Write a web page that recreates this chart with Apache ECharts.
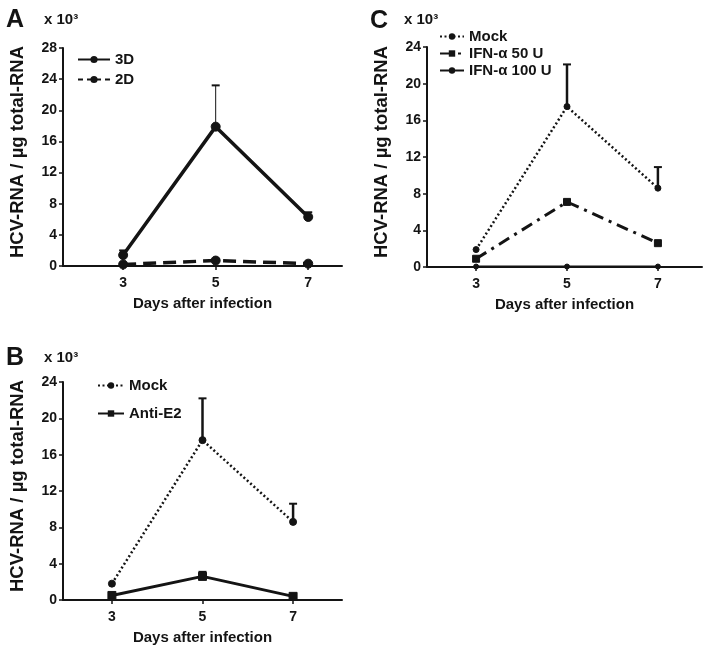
<!DOCTYPE html>
<html>
<head>
<meta charset="utf-8">
<script src="https://cdn.jsdelivr.net/npm/echarts@6/dist/echarts.min.js"></script>
<style>html,body{margin:0;padding:0;background:#fff;}#c{width:703px;height:646px;}</style>
</head>
<body>
<div id="c"></div>
<script>
// ---- data ----
const days = [3, 5, 7];
const dayTicks = [3, 5, 7];
// Panel A
const a3D = [1.4, 17.9, 6.3];
const a3DErr = [0.6, 5.3, 0.6];
const a2D = [0.2, 0.7, 0.3];
const a2DErr = [0.1, 0.2, 0.1];
// Panel B
const bMock = [1.8, 17.6, 8.6];
const bMockErr = [0, 4.6, 2.0];
const bAntiE2 = [0.5, 2.6, 0.4];
const bAntiE2Err = [0, 0.5, 0];
// Panel C
const cMock = [1.9, 17.5, 8.6];
const cMockErr = [0, 4.6, 2.3];
const cIFN50 = [0.9, 7.1, 2.6];
const cIFN50Err = [0, 0, 0];
const cIFN100 = [0.05, 0.05, 0.05];
const yTicksA = [0, 4, 8, 12, 16, 20, 24, 28];
const yTicksBC = [0, 4, 8, 12, 16, 20, 24];

const FONT = '"Liberation Sans", Arial, sans-serif';
const INK = '#141414';

function pts(vals) { return days.map((d, i) => [d, vals[i]]); }
function errPts(vals, errs) { return days.map((d, i) => [d, vals[i], vals[i] + errs[i]]).filter(p => p[2] > p[1]); }

function errSeries(idx, vals, errs, width) {
  return {
    type: 'custom', xAxisIndex: idx, yAxisIndex: idx, silent: true, z: 1,
    data: errPts(vals, errs),
    renderItem: function (params, api) {
      const p0 = api.coord([api.value(0), api.value(1)]);
      const p1 = api.coord([api.value(0), api.value(2)]);
      const cap = 4;
      return { type: 'group', children: [
        { type: 'line', shape: { x1: p0[0], y1: p0[1], x2: p1[0], y2: p1[1] }, style: { stroke: INK, lineWidth: width } },
        { type: 'line', shape: { x1: p1[0] - cap, y1: p1[1], x2: p1[0] + cap, y2: p1[1] }, style: { stroke: INK, lineWidth: 2 } }
      ] };
    }
  };
}

function lineSeries(idx, name, vals, lineType, width, symbol, size) {
  return {
    type: 'line', name: name, xAxisIndex: idx, yAxisIndex: idx, data: pts(vals),
    symbol: symbol, symbolSize: size, z: 3,
    lineStyle: { color: INK, width: width, type: lineType },
    itemStyle: { color: INK, borderColor: INK },
    emphasis: { disabled: true }
  };
}

const grids = [
  { left: 63, top: 48, width: 279, height: 218 },   // A
  { left: 63, top: 382, width: 279, height: 222 },  // B
  { left: 427, top: 47, width: 275, height: 220 }   // C
];
const xRanges = [[1.7, 7.73], [1.92, 8.08], [1.92, 7.97]];
const yMax = [28, 24, 24];

const xAxes = grids.map((g, i) => ({
  type: 'value', gridIndex: i, min: xRanges[i][0], max: xRanges[i][1],
  name: 'Days after infection', nameLocation: 'middle', nameGap: 30,
  nameTextStyle: { fontFamily: FONT, fontWeight: 'bold', fontSize: 15, color: INK },
  axisLine: { show: true, lineStyle: { color: INK, width: 2 } },
  axisTick: { show: true, customValues: dayTicks, length: 4, lineStyle: { color: INK, width: 1.5 } },
  axisLabel: { customValues: dayTicks, fontFamily: FONT, fontWeight: 'bold', fontSize: 14, color: INK, margin: 10 },
  splitLine: { show: false }
}));
const yAxes = grids.map((g, i) => ({
  type: 'value', gridIndex: i, min: 0, max: yMax[i], interval: 4,
  name: 'HCV-RNA / µg total-RNA', nameLocation: 'middle', nameRotate: 90, nameGap: 36,
  nameTextStyle: { fontFamily: FONT, fontWeight: 'bold', fontSize: 18.5, color: INK, padding: [0, 0, 0, 10] },
  axisLine: { show: true, lineStyle: { color: INK, width: 2 } },
  axisTick: { show: true, length: 4, lineStyle: { color: INK, width: 1.5 } },
  axisLabel: { fontFamily: FONT, fontWeight: 'bold', fontSize: 14, color: INK, margin: 6 },
  splitLine: { show: false }
}));

const legendText = { fontFamily: FONT, fontWeight: 'bold', fontSize: 15, color: INK };
const titleStyle = { fontFamily: FONT, fontWeight: 'bold', fontSize: 25, color: INK };
const subStyle = { fontFamily: FONT, fontWeight: 'bold', fontSize: 15, color: INK };
const option = {
  backgroundColor: '#fff',
  animation: false,
  title: [
    { text: 'A', left: 6, top: 8, padding: 0, textStyle: titleStyle },
    { text: 'x 10³', left: 44, top: 12, padding: 0, textStyle: subStyle },
    { text: 'B', left: 6, top: 346, padding: 0, textStyle: titleStyle },
    { text: 'x 10³', left: 44, top: 350, padding: 0, textStyle: subStyle },
    { text: 'C', left: 370, top: 9, padding: 0, textStyle: titleStyle },
    { text: 'x 10³', left: 404, top: 12, padding: 0, textStyle: subStyle }
  ],
  legend: [
    { data: ['3D', { name: '2D', lineStyle: { type: [5, 4] } }], orient: 'vertical', left: 77, top: 52, padding: 0, itemWidth: 32, itemHeight: 9, itemGap: 5, textStyle: legendText, selectedMode: false },
    { data: ['Mock', 'Anti-E2'], orient: 'vertical', left: 97, top: 378, padding: 0, itemWidth: 26, itemHeight: 8, itemGap: 13, textStyle: legendText, selectedMode: false },
    { data: ['Mock ', 'IFN-α 50 U', 'IFN-α 100 U'], orient: 'vertical', left: 439, top: 29, padding: 0, itemWidth: 24, itemHeight: 8, itemGap: 2, textStyle: legendText, selectedMode: false,
      formatter: function (n) { return n.trim(); } }
  ],
  grid: grids,
  xAxis: xAxes,
  yAxis: yAxes,
  series: [
    // A
    errSeries(0, a3D, a3DErr, 1),
    errSeries(0, a2D, a2DErr, 1),
    lineSeries(0, '3D', a3D, 'solid', 3.5, 'circle', 9),
    lineSeries(0, '2D', a2D, [13, 7], 3.5, 'circle', 9),
    // B
    errSeries(1, bMock, bMockErr, 2.5),
    errSeries(1, bAntiE2, bAntiE2Err, 2.5),
    lineSeries(1, 'Mock', bMock, [2, 2.5], 2.5, 'circle', 7),
    lineSeries(1, 'Anti-E2', bAntiE2, 'solid', 3, 'rect', 8),
    // C
    errSeries(2, cMock, cMockErr, 2.5),
    lineSeries(2, 'Mock ', cMock, [2, 2.5], 2.5, 'circle', 6),
    lineSeries(2, 'IFN-α 50 U', cIFN50, [12, 6, 3, 6], 3, 'rect', 7),
    lineSeries(2, 'IFN-α 100 U', cIFN100, 'solid', 2, 'circle', 5)
  ]
};
echarts.init(document.getElementById('c'), null, { renderer: 'canvas' }).setOption(option);
</script>
</body>
</html>
